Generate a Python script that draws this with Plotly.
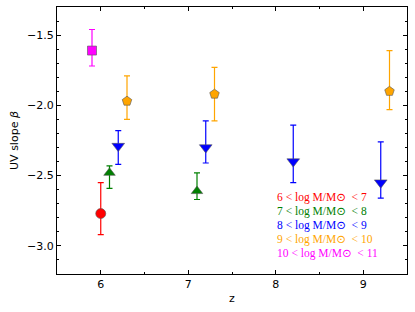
import plotly.graph_objects as go

# Data
labels = ["6 < log M/M<span style='font-family:DejaVu Sans'>⊙</span>  < 7",
          "7 < log M/M<span style='font-family:DejaVu Sans'>⊙</span>  < 8",
          "8 < log M/M<span style='font-family:DejaVu Sans'>⊙</span>  < 9",
          "9 < log M/M<span style='font-family:DejaVu Sans'>⊙</span>  < 10",
          "10 < log M/M<span style='font-family:DejaVu Sans'>⊙</span>  < 11"]
colors = ["red", "green", "blue", "orange", "magenta"]
symbols = ["circle", "triangle-up", "triangle-down", "pentagon", "square"]

z_red = [6.0]
b_red = [-2.77]
up_red = [0.22]
dn_red = [0.15]

z_green = [6.1, 7.1]
b_green = [-2.48, -2.61]
up_green = [0.05, 0.13]
dn_green = [0.11, 0.06]

z_blue = [6.2, 7.2, 8.2, 9.2]
b_blue = [-2.29, -2.30, -2.40, -2.55]
up_blue = [0.11, 0.19, 0.26, 0.29]
dn_blue = [0.13, 0.11, 0.15, 0.11]

z_orange = [6.3, 7.3, 9.3]
b_orange = [-1.97, -1.92, -1.90]
up_orange = [0.18, 0.19, 0.29]
dn_orange = [0.13, 0.19, 0.13]

z_mag = [5.9]
b_mag = [-1.61]
up_mag = [0.15]
dn_mag = [0.11]

series = [
    (z_red, b_red, up_red, dn_red),
    (z_green, b_green, up_green, dn_green),
    (z_blue, b_blue, up_blue, dn_blue),
    (z_orange, b_orange, up_orange, dn_orange),
    (z_mag, b_mag, up_mag, dn_mag),
]
sizes = [10, 10, 11, 10, 9]

fig = go.Figure()
for (zz, bb, uu, dd), c, s, sz in zip(series, colors, symbols, sizes):
    fig.add_trace(go.Scatter(
        x=zz, y=bb, mode="markers",
        marker=dict(symbol=s, size=sz, color=c, line=dict(color="#555555", width=0.6)),
        error_y=dict(type="data", symmetric=False, array=uu, arrayminus=dd,
                     color=c, thickness=1.2, width=3),
        showlegend=False,
    ))

# text legend
for i, (lab, c) in enumerate(zip(labels, colors)):
    fig.add_annotation(
        x=7.99, y=-2.65 - i * 0.1, xref="x", yref="y",
        text=lab, showarrow=False, xanchor="left", yanchor="middle",
        font=dict(family="Liberation Serif, DejaVu Serif, serif", size=11.5, color=c),
    )

axis_common = dict(
    showline=True, linecolor="black", linewidth=1, mirror="allticks",
    ticks="inside", ticklen=4, tickcolor="black", showgrid=False, zeroline=False,
    automargin=False,
    tickfont=dict(family="DejaVu Sans, sans-serif", size=11, color="black"),
)

fig.update_xaxes(
    range=[5.5, 9.5], tickvals=[6, 7, 8, 9],
    minor=dict(dtick=0.5, tick0=5.5, ticks="inside", ticklen=2, tickcolor="black"),
    title=dict(text="z", font=dict(family="DejaVu Sans, sans-serif", size=11, color="black"), standoff=4),
    **axis_common,
)
fig.update_yaxes(
    range=[-3.2, -1.3], tickvals=[-3.0, -2.5, -2.0, -1.5], tickformat=".1f",
    minor=dict(dtick=0.1, tick0=-3.2, ticks="inside", ticklen=2, tickcolor="black"),
    title=dict(text="UV slope <i>β</i>", font=dict(family="DejaVu Sans, sans-serif", size=11, color="black"), standoff=6),
    **axis_common,
)

fig.update_layout(
    width=415, height=312,
    margin=dict(l=57, r=8, t=7, b=38),
    paper_bgcolor="white", plot_bgcolor="white",
)

fig.write_html("out.html", config={"displayModeBar": False},
               post_script="document.body.style.margin='0';")
